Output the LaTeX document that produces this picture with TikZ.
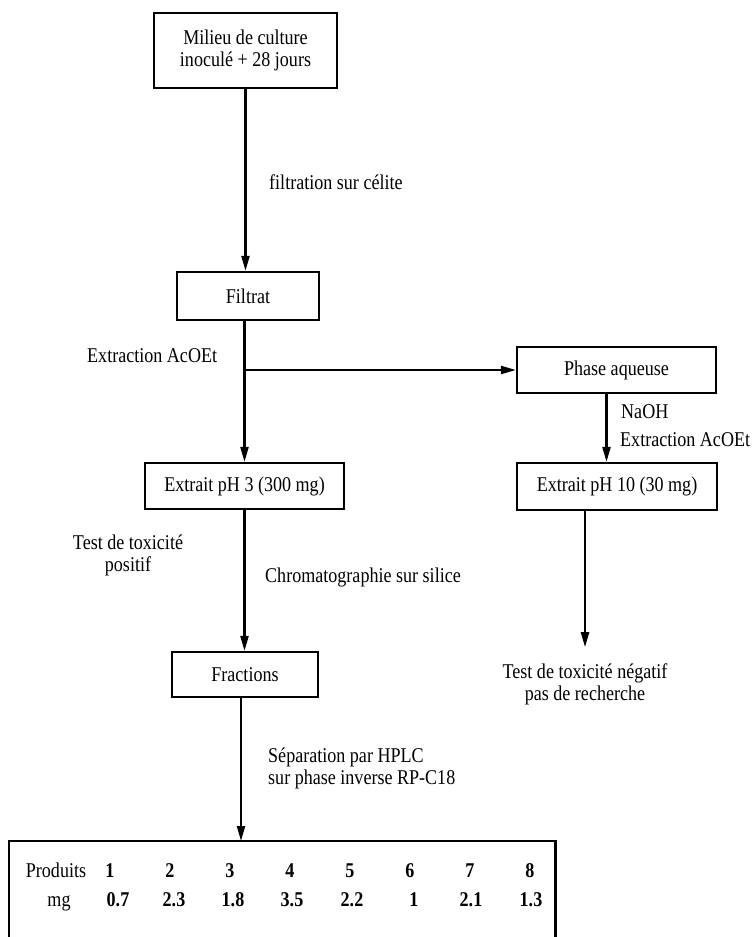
\documentclass[tikz,border=0pt]{standalone}
\usepackage{fontspec}
\setmainfont{Liberation Serif}[FakeStretch=0.86]
\usetikzlibrary{arrows.meta,calc}
\begin{document}
\begin{tikzpicture}[x=1pt,y=-1pt,
  every node/.style={font=\fontsize{21}{22}\selectfont},
  box/.style={draw,line width=2.2pt,inner sep=0pt,align=center},
  lbl/.style={inner sep=0pt,align=left},
  arr/.style={line width=2.2pt,-{Triangle[length=15pt,width=8pt]}},
  num/.style={inner sep=0pt,anchor=base,font=\fontsize{21}{22}\selectfont\bfseries}]
\useasboundingbox (0,0) rectangle (754,937);
\coordinate (bot) at (0,937);
% boxes
\node[box,minimum width=183pt,minimum height=75pt] (milieu) at (245.5,50.5) {Milieu de culture\\inoculé + 28 jours};
\node[box,minimum width=142pt,minimum height=48pt] (filtrat) at (248,296) {Filtrat};
\node[box,minimum width=199pt,minimum height=46pt] (phase) at (616.5,370) {Phase aqueuse};
\node[box,minimum width=199pt,minimum height=46pt] (ph3) at (244.5,486) {Extrait pH 3 (300 mg)};
\node[box,minimum width=200pt,minimum height=47pt] (ph10) at (617,486.5) {Extrait pH 10 (30 mg)};
\node[box,minimum width=146pt,minimum height=45pt] (fractions) at (245,674.5) {Fractions};
\node[inner sep=0pt,minimum width=546pt,minimum height=96pt,anchor=north west] (tab) at (9,841) {};
\draw[line width=2.2pt] (tab.north west |- bot) -- (tab.north west) -- (tab.north east) -- (tab.north east |- bot);
% labels
\node[lbl,anchor=west] (l1) at (269,182) {filtration sur célite};
\node[lbl,anchor=west] (l2) at (87,356) {Extraction AcOEt};
\node[lbl,anchor=west] (l3) at (621,412) {NaOH};
\node[lbl,anchor=west] (l4) at (620,440) {Extraction AcOEt};
\node[lbl,align=center] (l5) at (128,555) {Test de toxicité\\positif};
\node[lbl,anchor=west] (l6) at (265,577) {Chromatographie sur silice};
\node[lbl,anchor=west] (l7) at (268,768.5) {Séparation par HPLC\\sur phase inverse RP-C18};
\node[lbl,align=center] (neg) at (585,684) {Test de toxicité négatif\\pas de recherche};
% connectors
\draw[arr] (milieu.south) -- (milieu.south |- filtrat.north);
\coordinate (j) at (ph3.north |- phase.west);
\draw[line width=2.2pt] (filtrat.south -| ph3.north) -- (j);
\draw[arr] (j) -- (ph3.north);
\draw[arr] (j) -- (phase.west);
\draw[arr] ([xshift=-10pt]phase.south) -- ([xshift=-10pt]phase.south |- ph10.north);
\draw[arr] (ph10.south -| neg.north) -- ([yshift=16pt]neg.north);
\draw[arr] (ph3.south) -- (ph3.south |- fractions.north);
\draw[arr] ([xshift=-4pt]fractions.south) -- ([xshift=-4pt]fractions.south |- tab.north);
% table
\node[inner sep=0pt,anchor=base] (prod) at (56,877) {Produits};
\node[inner sep=0pt,anchor=base] (mgl) at (59,906) {mg};
\foreach \i/\x in {1/110,2/170,3/230,4/290,5/350,6/410,7/470,8/530}
  \node[num] (p\i) at (\x,877) {\i};
\foreach \i/\x/\v in {1/118/0.7,2/174/2.3,3/233/1.8,4/292/3.5,5/352/2.2,6/414/1,7/471/2.1,8/531/1.3}
  \node[num] (m\i) at (\x,906) {\v};
\end{tikzpicture}
\end{document}
